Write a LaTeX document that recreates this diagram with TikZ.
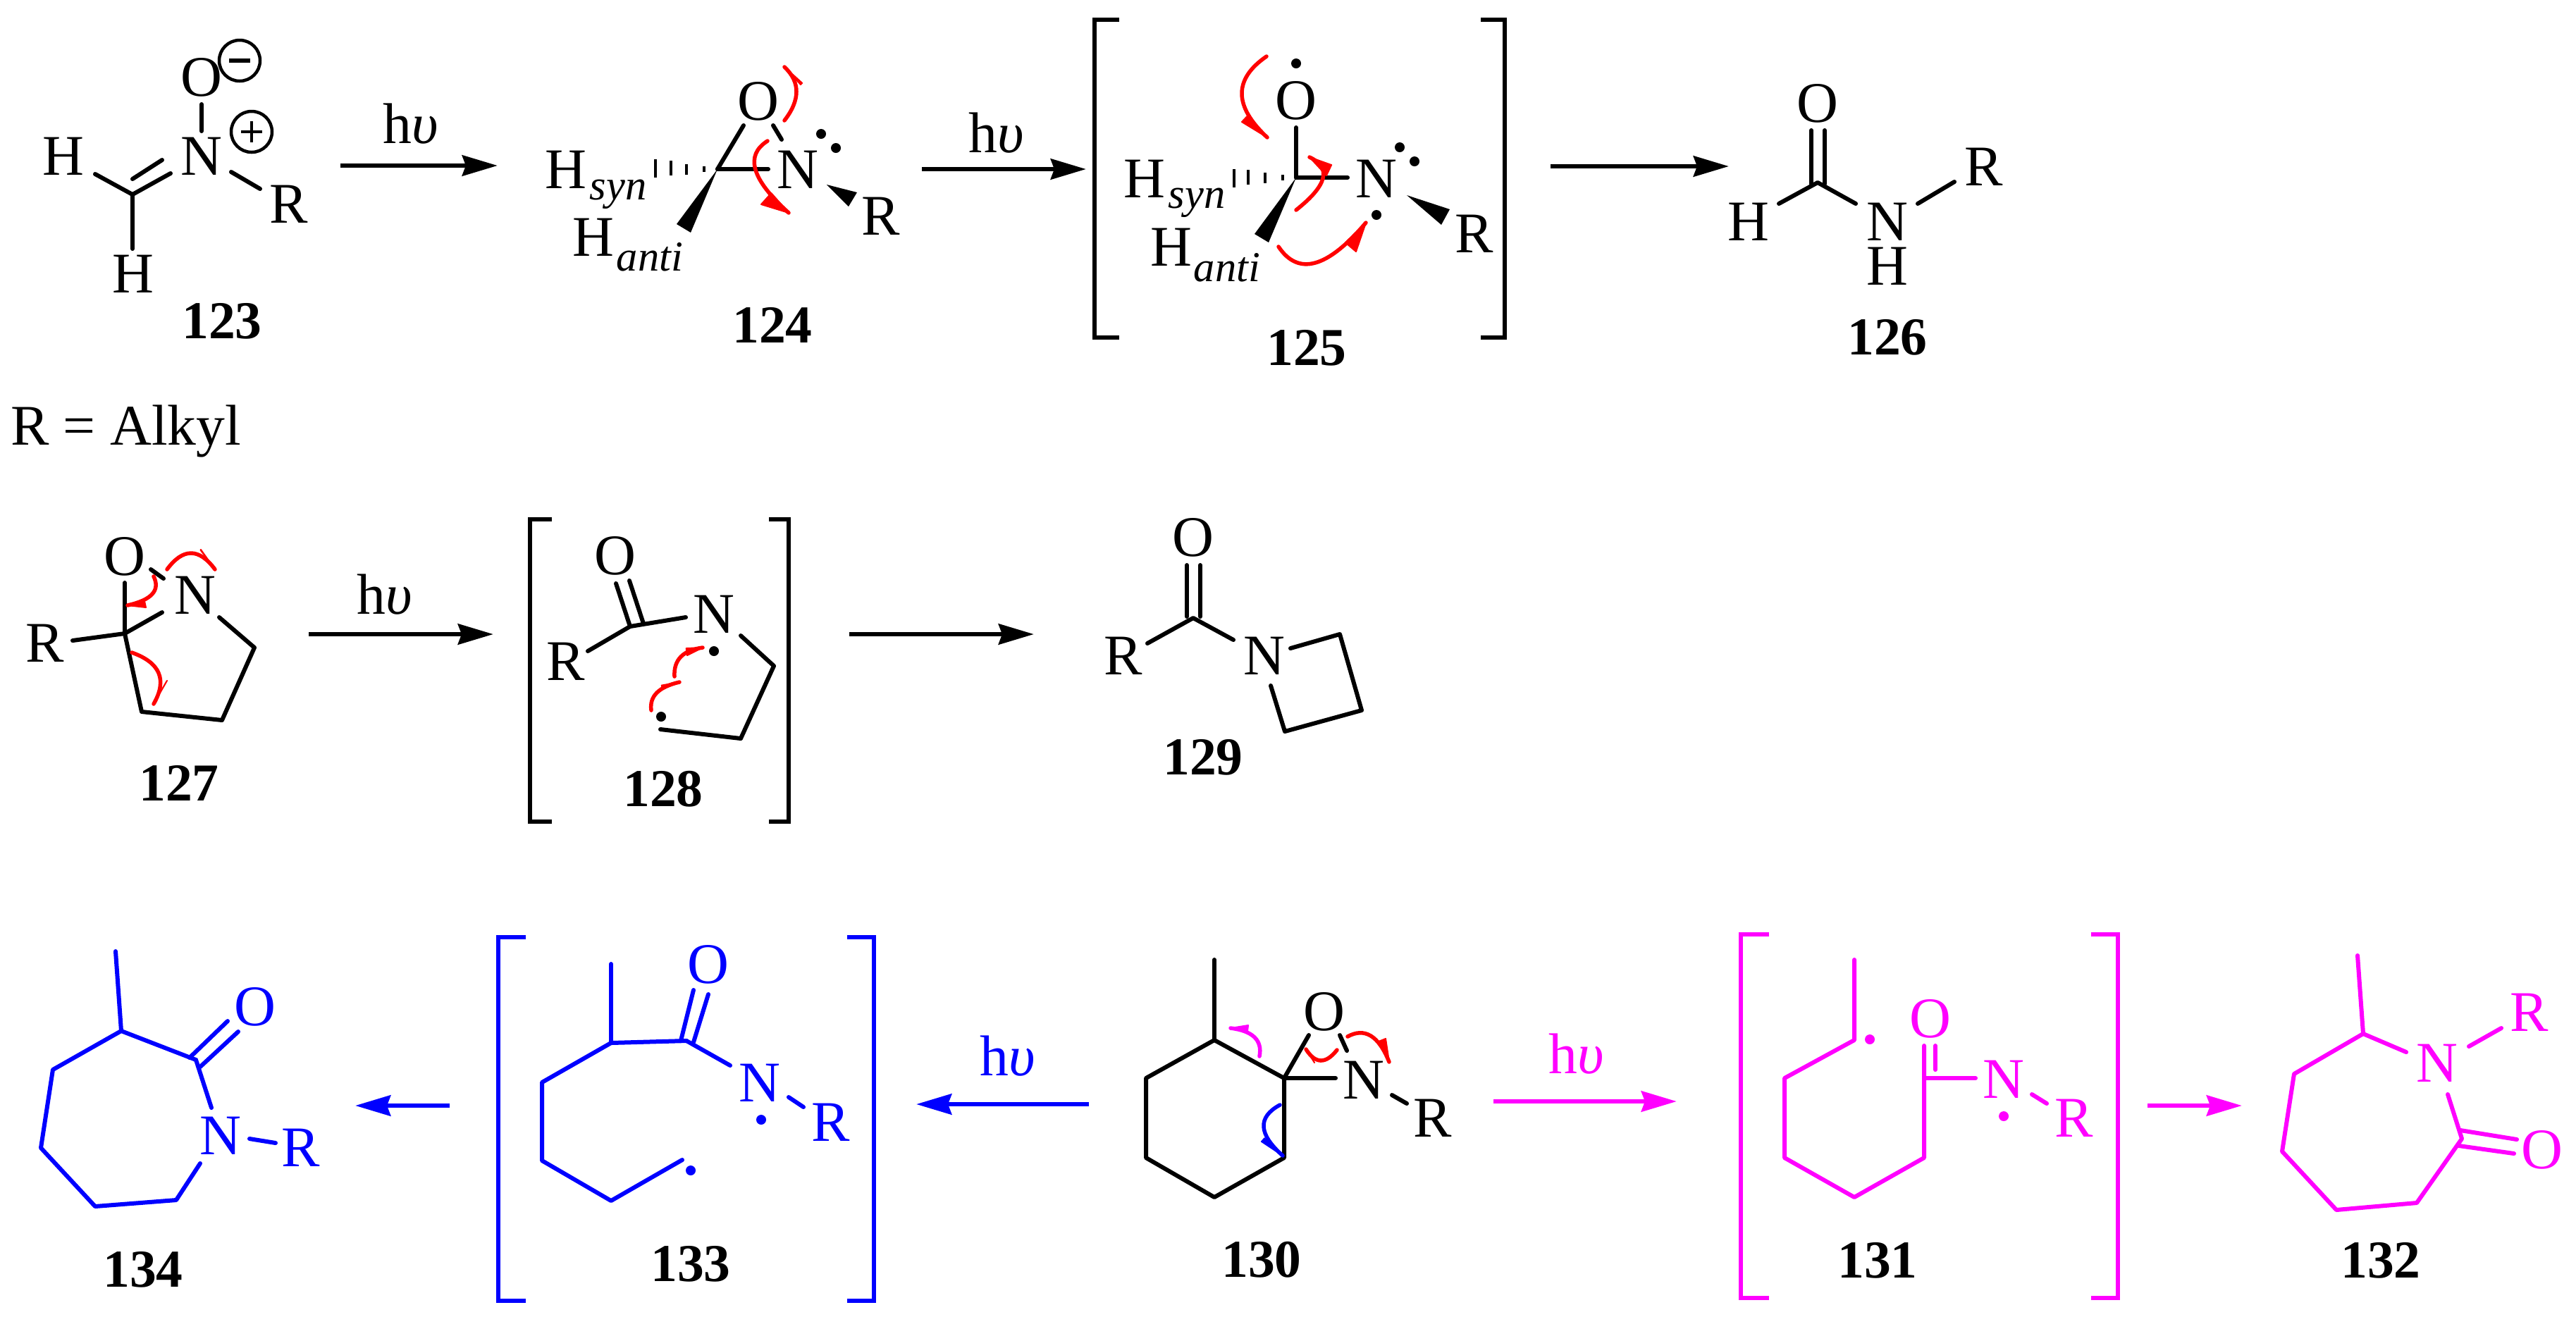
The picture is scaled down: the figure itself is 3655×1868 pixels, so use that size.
\documentclass[tikz,border=0pt]{standalone}
\usepackage{fontspec}
\setmainfont{Liberation Serif}
\usetikzlibrary{arrows.meta,calc}
\definecolor{puremag}{RGB}{255,0,255}
\definecolor{pureblue}{RGB}{0,0,255}
\definecolor{purered}{RGB}{255,0,0}
\tikzset{
  atom/.style={inner sep=0pt,outer sep=0pt,font=\fontsize{23.2}{26}\selectfont},
  lbl/.style={inner sep=0pt,outer sep=0pt,font=\fontsize{21.5}{24}\selectfont\bfseries},
  subs/.style={inner sep=0pt,outer sep=0pt,font=\fontsize{17.2}{20}\selectfont\itshape},
  bond/.style={line width=0.06cm,line cap=round,line join=round},
  brack/.style={line width=0.06cm,line cap=butt,line join=miter},
  rxn/.style={line width=0.068cm,-{Stealth[length=0.5cm,width=0.29cm,inset=0.05cm]}},
  chg/.style={line width=0.045cm},
  curv/.style={line width=0.055cm,line cap=round}
}
\newcommand\curly[5][purered]{%
  \coordinate (qq) at ($2*(#3)-0.5*(#2)-0.5*(#4)$);
  \coordinate (c1) at ($(#2)!0.6667!(qq)$);
  \coordinate (c2) at ($(#4)!0.6667!(qq)$);
  \draw[curv,draw=#1] (#2) .. controls (c1) and (c2) .. (#4);
  \coordinate (ff) at ($(#4)!(#5)!(c2)$);
  \filldraw[#1,line width=0.02cm,line join=round] (#4) -- (#5) -- ($(ff)!-0.25!(#5)$) -- cycle;}
\newcommand\rad[1]{\fill (#1) circle[radius=7];}
\newcommand\hv{h{\itshape υ}}
\begin{document}
\begin{tikzpicture}[x=0.01cm,y=-0.01cm]
\useasboundingbox (0,0) rectangle (3655,1868);

% ---------- 123
\node[atom] (o123) at (286,110) {O};
\node[atom] (n123) at (286,222) {N};
\node[atom] (h123a) at (90,222) {H};
\node[atom] (h123b) at (189,389) {H};
\node[atom] (r123) at (410,290) {R};
\node[lbl] (l123) at (315,456) {123};
\draw[bond] (286,148) -- (286,186);
\draw[bond] (135,247) -- (188,276) -- (242,246);
\draw[bond] (188,254) -- (230,227);
\draw[bond] (188,276) -- (188,353);
\draw[bond] (328,244) -- (369,268);
\draw[chg] (340,86) circle[radius=29];
\draw[line width=0.055cm] (325,86) -- (355,86);
\draw[chg] (357,187) circle[radius=29];
\draw[chg] (342,187) -- (372,187) (357,172) -- (357,202);
\coordinate (a1s) at (483,235);
\coordinate (a1e) at (706,235);
\draw[rxn] (a1s) -- (a1e);
\node[atom] (hv1) at (583,176) {\hv};

% ---------- 124
\node[atom] (o124) at (1076,144) {O};
\node[atom] (n124) at (1132,241) {N};
\node[atom] (r124) at (1250,307) {R};
\node[atom] (hs124) at (803,241) {H};
\node[subs] (ss124) at (877,276) {syn};
\node[atom] (ha124) at (842,337) {H};
\node[subs] (sa124) at (922,365) {anti};
\node[lbl] (l124) at (1096,461) {124};
\draw[bond] (1018,240) -- (1055,178);
\draw[bond] (1097,178) -- (1109,198);
\draw[bond] (1018,240) -- (1090,240);
\rad{1165,190}\rad{1186,210}
\fill (1173,262) -- (1204,293) -- (1216,273) -- cycle;
\fill (1018,240) -- (960,318) -- (980,330) -- cycle;
\draw[line width=0.045cm] (999,236) -- (999,244) (974,233) -- (974,248) (952,228) -- (952,249) (930,226) -- (930,252);
\curly{1113,171}{1130,130}{1113,95}{1136,120}
\curly{1089,200}{1072,241}{1119,302}{1080,290}

% ---------- arrow 2
\coordinate (a2s) at (1308,240);
\coordinate (a2e) at (1541,240);
\draw[rxn] (a2s) -- (a2e);
\node[atom] (hv2) at (1414,189) {\hv};

% ---------- 125
\draw[brack] (1588,28) -- (1553,28) -- (1553,479) -- (1588,479);
\draw[brack] (2101,28) -- (2135,28) -- (2135,479) -- (2101,479);
\node[atom] (o125) at (1839,143) {O};
\node[atom] (n125) at (1953,254) {N};
\node[atom] (r125) at (2092,332) {R};
\node[atom] (hs125) at (1624,254) {H};
\node[subs] (ss125) at (1698,288) {syn};
\node[atom] (ha125) at (1662,351) {H};
\node[subs] (sa125) at (1741,380) {anti};
\node[lbl] (l125) at (1854,494) {125};
\draw[bond] (1839,252) -- (1839,181);
\draw[bond] (1839,252) -- (1912,252);
\rad{1839,90}\rad{1986,209}\rad{2007,229}\rad{1953,305}
\fill (1996,277) -- (2045,319) -- (2057,297) -- cycle;
\fill (1839,252) -- (1780,332) -- (1800,344) -- cycle;
\draw[line width=0.045cm] (1820,248) -- (1820,256) (1795,245) -- (1795,260) (1771,241) -- (1771,262) (1751,240) -- (1751,266);
\curly{1797,80}{1762,133}{1798,195}{1762,173}
\curly{1839,298}{1877,253}{1858,223}{1882,249}
\curly{1814,350}{1866,373}{1938,316}{1924,357}

% ---------- arrow 3, 126
\coordinate (a3s) at (2200,236);
\coordinate (a3e) at (2453,236);
\draw[rxn] (a3s) -- (a3e);
\node[atom] (o126) at (2579,147) {O};
\node[atom] (h126a) at (2481,315) {H};
\node[atom] (n126) at (2678,315) {N};
\node[atom] (h126b) at (2678,378) {H};
\node[atom] (r126) at (2815,237) {R};
\node[lbl] (l126) at (2678,479) {126};
\draw[bond] (2570,185) -- (2570,261) (2589,185) -- (2589,261);
\draw[bond] (2524,289) -- (2579,259) -- (2633,289);
\draw[bond] (2721,289) -- (2773,258);

% ---------- R = Alkyl
\node[atom,anchor=base west] (alk) at (15,631) {R = Alkyl};

% ---------- 127
\node[atom] (o127) at (177,790) {O};
\node[atom] (n127) at (277,845) {N};
\node[atom] (r127) at (64,913) {R};
\node[lbl] (l127) at (254,1111) {127};
\draw[bond] (177,899) -- (177,827);
\draw[bond] (214,808) -- (232,821);
\draw[bond] (177,899) -- (230,869);
\draw[bond] (311,876) -- (361,919) -- (315,1022) -- (201,1010) -- (177,899);
\draw[bond] (103,909) -- (177,899);
\curly{237,808}{271,785}{305,808}{285,780}
\curly{218,818}{216,843}{181,859}{207,862}
\curly{187,926}{225,955}{218,999}{237,966}

\coordinate (a4s) at (438,900);
\coordinate (a4e) at (700,900);
\draw[rxn] (a4s) -- (a4e);
\node[atom] (hv4) at (546,844) {\hv};

% ---------- 128
\draw[brack] (783,737) -- (752,737) -- (752,1166) -- (783,1166);
\draw[brack] (1091,737) -- (1119,737) -- (1119,1166) -- (1091,1166);
\node[atom] (o128) at (873,789) {O};
\node[atom] (n128) at (1013,872) {N};
\node[atom] (r128) at (803,939) {R};
\node[lbl] (l128) at (941,1120) {128};
\draw[bond] (874,828) -- (894,889);
\draw[bond] (893,824) -- (913,885);
\draw[bond] (973,876) -- (894,889) -- (834,924);
\draw[bond] (1051,902) -- (1098,945) -- (1051,1048) -- (937,1035);
\rad{1013,924}\rad{938,1017}
\curly{957,960}{966,932}{997,919}{975,930}
\curly{924,1008}{932,983}{964,968}{940,978}

\coordinate (a5s) at (1205,900);
\coordinate (a5e) at (1467,900);
\draw[rxn] (a5s) -- (a5e);

% ---------- 129
\node[atom] (o129) at (1693,763) {O};
\node[atom] (r129) at (1594,931) {R};
\node[atom] (n129) at (1794,931) {N};
\node[lbl] (l129) at (1707,1075) {129};
\draw[bond] (1684,802) -- (1684,875) (1703,802) -- (1703,875);
\draw[bond] (1628,913) -- (1693,877) -- (1750,908);
\draw[bond] (1831,920) -- (1901,900) -- (1932,1008) -- (1823,1038) -- (1803,973);

% ---------- 134 / 133 (blue)
\begin{scope}[color=pureblue]
\node[atom] (o134) at (362,1429) {O};
\node[atom] (n134) at (313,1612) {N};
\node[atom] (r134) at (427,1629) {R};
\draw[bond] (164,1350) -- (172,1463);
\draw[bond] (278,1504) -- (172,1463) -- (75,1518) -- (58,1629) -- (135,1712) -- (250,1703) -- (284,1651);
\draw[bond] (278,1504) -- (300,1572);
\draw[bond] (269,1501) -- (323,1449) (284,1514) -- (338,1464);
\draw[bond] (354,1616) -- (391,1622);
\coordinate (a6s) at (638,1569);
\coordinate (a6e) at (504,1569);
\draw[rxn] (a6s) -- (a6e);
\draw[brack] (746,1330) -- (707,1330) -- (707,1846) -- (746,1846);
\draw[brack] (1202,1330) -- (1240,1330) -- (1240,1846) -- (1202,1846);
\node[atom] (o133) at (1005,1369) {O};
\node[atom] (n133) at (1078,1537) {N};
\node[atom] (r133) at (1179,1593) {R};
\draw[bond] (867,1368) -- (867,1480);
\draw[bond] (974,1477) -- (867,1480) -- (769,1536) -- (769,1647) -- (867,1704) -- (968,1646);
\draw[bond] (966,1477) -- (984,1405) (984,1479) -- (1005,1411);
\draw[bond] (974,1477) -- (1036,1512);
\draw[bond] (1119,1557) -- (1140,1571);
\rad{1080,1589}\rad{980,1661}
\coordinate (a7s) at (1545,1567);
\coordinate (a7e) at (1300,1567);
\draw[rxn] (a7s) -- (a7e);
\node[atom] (hv7) at (1430,1499) {\hv};
\end{scope}
\node[lbl] (l134) at (203,1802) {134};
\node[lbl] (l133) at (980,1794) {133};

% ---------- 130
\node[atom] (o130) at (1879,1436) {O};
\node[atom] (n130) at (1935,1533) {N};
\node[atom] (r130) at (2033,1587) {R};
\node[lbl] (l130) at (1790,1788) {130};
\draw[bond] (1723,1362) -- (1723,1476);
\draw[bond] (1723,1476) -- (1822,1530) -- (1822,1643) -- (1723,1699) -- (1626,1643) -- (1626,1530) -- cycle;
\draw[bond] (1822,1530) -- (1857,1469);
\draw[bond] (1901,1469) -- (1911,1491);
\draw[bond] (1822,1530) -- (1895,1530);
\draw[bond] (1975,1554) -- (1996,1566);
\curly{1897,1490}{1874,1505}{1853,1489}{1865,1508}
\curly{1912,1471}{1945,1470}{1971,1507}{1966,1474}
\curly[puremag]{1787,1499}{1780,1472}{1746,1459}{1771,1455}
\curly[pureblue]{1816,1568}{1793,1599}{1820,1640}{1790,1620}

% ---------- 131 / 132 (magenta)
\begin{scope}[color=puremag]
\coordinate (a8s) at (2119,1563);
\coordinate (a8e) at (2379,1563);
\draw[rxn] (a8s) -- (a8e);
\node[atom] (hv8) at (2237,1496) {\hv};
\draw[brack] (2510,1326) -- (2470,1326) -- (2470,1842) -- (2510,1842);
\draw[brack] (2967,1326) -- (3005,1326) -- (3005,1842) -- (2967,1842);
\node[atom] (o131) at (2739,1446) {O};
\node[atom] (n131) at (2843,1532) {N};
\node[atom] (r131) at (2943,1587) {R};
\draw[bond] (2631,1362) -- (2631,1476) -- (2532,1530) -- (2532,1643) -- (2631,1699) -- (2730,1643) -- (2730,1484);
\draw[bond] (2746,1484) -- (2746,1518);
\draw[bond] (2730,1530) -- (2803,1530);
\draw[bond] (2883,1553) -- (2904,1566);
\rad{2653,1475}\rad{2843,1584}
\coordinate (a9s) at (3047,1569);
\coordinate (a9e) at (3181,1569);
\draw[rxn] (a9s) -- (a9e);
\node[atom] (n132) at (3458,1509) {N};
\node[atom] (r132) at (3589,1437) {R};
\node[atom] (o132) at (3607,1632) {O};
\draw[bond] (3345,1356) -- (3353,1467);
\draw[bond] (3414,1493) -- (3353,1467) -- (3255,1524) -- (3238,1634) -- (3315,1717) -- (3429,1707) -- (3493,1616) -- (3473,1553);
\draw[bond] (3503,1485) -- (3549,1459);
\draw[bond] (3491,1604) -- (3571,1617) (3489,1626) -- (3567,1637);
\end{scope}
\node[lbl] (l131) at (2664,1789) {131};
\node[lbl] (l132) at (3378,1789) {132};
\end{tikzpicture}
\end{document}
